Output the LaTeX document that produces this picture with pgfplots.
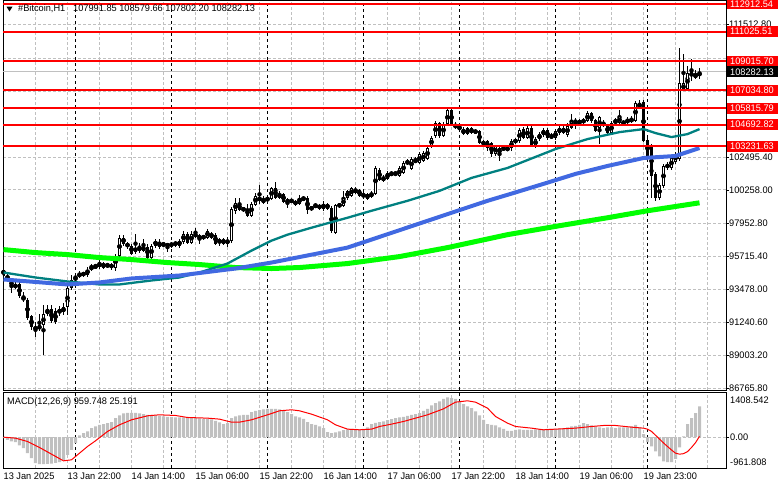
\documentclass[border=0pt]{standalone}
\usepackage{pgfplots}
\pgfplotsset{compat=1.18}
\usepackage{pgfplotstable}
\usepackage{fontspec}
\setmainfont{Liberation Sans}
\newfontfamily\mt{Liberation Sans}[FakeStretch=0.97]
\newcommand\mtf{\mt\fontsize{9.5}{11}\selectfont}
\definecolor{mtgrid}{HTML}{C0C0C0}
\definecolor{mtlime}{HTML}{00FF00}
\definecolor{mtteal}{HTML}{008080}
\definecolor{mtblue}{HTML}{4169E1}
\definecolor{mtred}{HTML}{FF0000}

\pgfplotstableread[row sep=\\]{
i o h l c\\
0 94833 95036 94290 94426\\ 1 94426 94562 94019 94155\\ 2 94155 94223 93206 93612\\ 3 93612 93951 93477 93816\\
4 93816 93951 92867 93002\\ 5 93002 93273 92595 92731\\ 6 92731 92867 91375 91511\\ 7 91646 91714 90697 90900\\
8 90900 91239 90222 90765\\ 9 90765 91782 90629 91036\\ 10 91036 92392 89002 91782\\ 11 91782 92392 91646 92121\\
12 92121 92392 91172 91307\\ 13 91985 92189 91104 91239\\ 14 91850 92324 91646 92121\\ 15 91917 92528 91714 92256\\
16 92256 93680 91714 93545\\ 17 93545 94494 93409 94087\\ 18 94087 94629 93951 94358\\ 19 94358 94765 94223 94562\\
20 94562 94697 94358 94494\\ 21 94494 95036 94358 94833\\ 22 94833 95240 94765 95036\\ 23 95036 95240 94901 95010\\
24 95010 95511 94901 95307\\ 25 95240 95375 94901 94968\\ 26 95036 95307 94968 95172\\ 27 95172 95307 94833 94968\\
28 94968 95918 94765 95782\\ 29 95782 97206 95646 97002\\ 30 97002 97206 96460 96596\\ 31 96596 96731 96257 96392\\
32 96460 96596 95850 95918\\ 33 96053 97274 95918 96325\\ 34 96121 96663 95985 96392\\ 35 96121 96935 96053 96392\\
36 96392 96596 95579 95646\\ 37 95646 96596 95579 96460\\ 38 96460 96935 96325 96799\\ 39 96663 96935 96257 96392\\
40 96460 96731 96392 96596\\ 41 96596 96663 96053 96392\\ 42 96460 96731 96325 96596\\ 43 96528 96799 96392 96663\\
44 96460 96935 96325 96799\\ 45 96731 97477 96596 97274\\ 46 97274 97409 96596 96663\\ 47 96663 97477 96596 97274\\
48 97274 97680 97002 97070\\ 49 97138 97274 96596 96935\\ 50 97002 97206 96867 97070\\ 51 97002 97613 96935 97477\\
52 97002 97409 96935 97274\\ 53 97206 97342 96528 96596\\ 54 96663 97002 96460 96867\\ 55 96867 97002 96528 96596\\
56 96596 97070 96392 96867\\ 57 96799 99104 96663 98969\\ 58 98833 99714 98630 99375\\ 59 99307 99714 98833 98901\\
60 98901 99104 98765 98969\\ 61 98969 99307 98426 98494\\ 62 98494 99443 98426 99307\\ 63 99240 100053 99172 99850\\
64 99782 100596 99307 99511\\ 65 99375 99850 99307 99646\\ 66 99646 99782 99511 99579\\ 67 99646 100460 99579 100392\\
68 100392 100799 99646 99714\\ 69 99714 100189 99646 99986\\ 70 99986 100053 99375 99443\\ 71 99646 99714 99036 99307\\
72 99443 99646 99375 99579\\ 73 99240 99579 99172 99511\\ 74 99307 99918 99240 99714\\ 75 99714 99850 99511 99579\\
76 99714 99850 98630 98901\\ 77 98901 99172 98833 99104\\ 78 99172 99375 99036 99150\\ 79 99240 99307 98901 98969\\
80 98969 99511 98833 99307\\ 81 98969 99375 98901 99307\\ 82 99036 99172 97341 97477\\ 83 97341 99307 97274 99240\\
84 99104 99375 99036 99307\\ 85 99172 100189 99104 99714\\ 86 99714 100257 99579 100189\\ 87 99850 100460 99782 100392\\
88 100325 100460 99986 100053\\ 89 100257 100325 99782 99850\\ 90 99850 100121 99646 99918\\ 91 99986 100053 99579 99646\\
92 99782 100189 99714 100053\\ 93 99986 101884 99918 101748\\ 94 101613 101748 100867 100935\\ 95 101138 101274 100799 100867\\
96 101003 101545 100935 101409\\ 97 101409 101545 101206 101274\\ 98 101409 101477 101206 101342\\ 99 101206 101884 101138 101748\\
100 101409 102223 101342 102087\\ 101 102223 102359 101952 102020\\ 102 101681 102494 101613 102359\\ 103 102155 102494 102087 102291\\
104 102087 102833 102020 102698\\ 105 102223 102901 102155 102765\\ 106 102359 103240 102291 103104\\ 107 103240 103918 103104 103782\\
108 103918 104935 103782 104799\\ 109 104799 104867 103782 103918\\ 110 103918 104867 103850 104732\\ 111 104732 105749 104596 105681\\
112 105681 105749 104596 104732\\ 113 104732 104867 104393 104460\\ 114 104596 104664 104257 104393\\ 115 104393 104528 103986 104054\\
116 104054 104528 103986 104460\\ 117 104460 104528 104054 104121\\ 118 104189 104393 104054 104257\\ 119 104257 104325 103376 103443\\
120 103511 103647 103240 103376\\ 121 103579 103647 102901 103104\\ 122 103443 103511 102494 102698\\ 123 102698 103308 102562 103240\\
124 103104 103172 102223 102698\\ 125 103036 103240 102901 103104\\ 126 103104 103240 102901 102969\\ 127 103104 103714 102901 103579\\
128 103511 103782 103376 103647\\ 129 103579 104460 103443 104325\\ 130 104393 104528 103714 103782\\ 131 103782 104596 103714 104460\\
132 104460 104664 103172 103240\\ 133 103240 103850 103104 103714\\ 134 103714 104189 103579 104054\\ 135 103986 104460 103850 104325\\
136 104325 104460 103647 103782\\ 137 103850 104121 103714 103918\\ 138 103782 104393 103647 104257\\ 139 104121 104664 103986 104460\\
140 104460 104596 104054 104121\\ 141 103986 104799 103850 104596\\ 142 104460 105410 104393 104935\\ 143 104867 105138 104393 104935\\
144 104799 105070 104664 104935\\ 145 104867 105138 104732 105003\\ 146 104935 105613 104867 105477\\ 147 105477 105545 104799 104935\\
148 105003 105070 104189 104257\\ 149 104460 105274 103376 105206\\ 150 104867 105003 104528 104596\\ 151 104596 104732 104054 104121\\
152 104121 104935 104054 104799\\ 153 104799 105138 104732 105003\\ 154 104799 105681 104732 105274\\ 155 104867 105003 104664 104799\\
156 104799 105206 104732 105070\\ 157 105138 105274 104799 104867\\ 158 104935 106291 104867 106155\\ 159 105816 106359 105749 106155\\
160 106223 106359 103511 103579\\ 161 103647 103782 102359 102562\\ 162 103240 103376 99714 101206\\ 163 101342 101477 99511 99714\\
164 99714 100731 99579 100596\\ 165 100528 102020 100392 101884\\ 166 101748 102155 101613 102020\\ 167 101748 102562 101613 102426\\
168 102155 102833 102020 102698\\ 169 102359 109884 102223 107511\\ 170 107037 109478 106969 107511\\ 171 107105 108664 106969 108189\\
172 108257 109139 107647 107986\\ 173 108121 108393 107782 107918\\ 174 107991.85 108579.66 107802.20 108282.13\\
}\candles

\begin{document}
\begin{tikzpicture}[x=1pt,y=1pt]
\useasboundingbox (0,0) rectangle (781,489);
% ---------------- main price pane ----------------
\begin{axis}[
  at={(3pt,99pt)}, anchor=south west,
  scale only axis, width=723pt, height=390pt,
  xmin=-0.125, xmax=180.625,
  ymin=86629.6, ymax=113184.7,
  clip mode=individual,
  axis line style={black, line width=0.8pt},
  xtick={8,16,...,176}, xticklabels={}, xtick style={draw=none},
  xmajorgrids, ymajorgrids,
  grid style={mtgrid, dash pattern=on 3pt off 2pt, line width=0.8pt},
  ytick={86765.80,89003.20,91240.60,93478.00,95715.40,97952.80,100258.00,102495.40,104732.80,106970.20,109207.60,111512.80},
  yticklabels={86765.80,89003.20,91240.60,93478.00,95715.40,97952.80,100258.00,102495.40,,,,111512.80},
  ytick pos=right, yticklabel pos=right,
  tick align=outside, major tick length=3pt,
  ytick style={black, line width=0.6pt},
  yticklabel style={font=\mtf, anchor=west, inner sep=0pt, xshift=0pt},
  scaled y ticks=false,
]
\pgfplotsinvokeforeach{18,42,66,90,114,138,161}{
  \draw[black, dash pattern=on 3pt off 3pt, line width=0.8pt] (axis cs:#1,86629.6) -- (axis cs:#1,113184.7);
}
% current price line
\addplot[mtgrid, line width=1pt, forget plot] coordinates {(-0.125,108282.13) (180.625,108282.13)};
% wicks
\addplot[only marks, mark=none, forget plot,
  error bars/.cd, y dir=both, y explicit, error mark=none,
  error bar style={black, line width=1pt}]
  table[x=i, y expr={(\thisrow{h}+\thisrow{l})/2}, y error expr={(\thisrow{h}-\thisrow{l})/2}] {\candles};
% bodies
\addplot[only marks, mark=none, forget plot,
  error bars/.cd, y dir=both, y explicit, error mark=none,
  error bar style={black, line width=3pt}]
  table[x=i, y expr={(\thisrow{o}+\thisrow{c})/2}, y error expr={max(abs(\thisrow{c}-\thisrow{o})/2,35)}] {\candles};
\addplot[only marks, mark=none, forget plot,
  error bars/.cd, y dir=both, y explicit, error mark=none,
  error bar style={white, line width=1pt}]
  table[x=i, y expr={(\thisrow{o}+\thisrow{c})/2}, y error expr={max((\thisrow{c}-\thisrow{o})/2-68,0)}] {\candles};
% moving averages
\addplot[mtlime, line width=5pt, line join=round] coordinates {(0,96189) (8,95985) (16,95850) (24,95646) (32,95511) (41,95307) (49,95172) (58,94968) (67,94901) (74,94968) (86,95240) (99,95714) (111,96325) (126,97206) (139,97816) (151,98358) (161,98833) (174,99375)};
\addplot[mtteal, line width=2.3pt, line join=round] coordinates {(0,94629) (8,94290) (16,94019) (24,93816) (29,93816) (37,94087) (44,94290) (49,94629) (56,95240) (62,96121) (67,96799) (71,97206) (77,97680) (86,98358) (92,98833) (101,99511) (109,100189) (117,101070) (126,101748) (138,103036) (146,103714) (154,104189) (160,104393) (163,104121) (167,103850) (171,104054) (174,104393)};
\addplot[mtblue, line width=4pt, line join=round] coordinates {(0,94155) (16,93816) (24,93951) (32,94223) (44,94426) (58,94901) (67,95307) (86,96325) (115,98969) (121,99511) (126,99918) (135,100664) (143,101342) (151,101884) (160,102426) (168,102562) (174,103104)};
% levels
\pgfplotsinvokeforeach{112912.54,111025.51,109015.70,107034.80,105815.79,104692.82,103231.63}{
  \addplot[mtred, line width=2pt, forget plot] coordinates {(-0.125,#1) (180.625,#1)};
  \node[fill=mtred, text=white, anchor=west, inner xsep=3pt, inner ysep=0pt, minimum height=11pt, text width=45pt, align=left, font=\mtf, xshift=1pt] at (axis cs:180.625,#1) {#1};
}
\node[fill=black, text=white, anchor=west, inner xsep=3pt, inner ysep=0pt, minimum height=11pt, text width=45pt, align=left, font=\mtf, xshift=1pt] at (axis cs:180.625,108282.13) {108282.13};
\end{axis}
% ---------------- MACD pane ----------------
\begin{axis}[
  at={(3pt,21pt)}, anchor=south west,
  scale only axis, width=723pt, height=76pt,
  xmin=-0.125, xmax=180.625,
  ymin=-961.808, ymax=1408.542,
  clip mode=individual,
  axis line style={black, line width=0.8pt},
  xtick={8,16,...,176}, xticklabels={}, xtick style={draw=none},
  extra x ticks={0,16,...,160},
  extra x tick labels={13 Jan 2025,13 Jan 22:00,14 Jan 14:00,15 Jan 06:00,15 Jan 22:00,16 Jan 14:00,17 Jan 06:00,17 Jan 22:00,18 Jan 14:00,19 Jan 06:00,19 Jan 23:00},
  extra x tick style={grid=none, tick style={draw=none}, xticklabel style={font=\mtf, anchor=north west, inner sep=0pt, yshift=-2pt}},
  xmajorgrids, ymajorgrids,
  grid style={mtgrid, dash pattern=on 3pt off 2pt, line width=0.8pt},
  ytick={0}, yticklabels={}, ytick pos=right,
  tick align=outside, major tick length=3pt,
  ytick style={black, line width=0.6pt},
]
\pgfplotsinvokeforeach{18,42,66,90,114,138,161}{
  \draw[black, dash pattern=on 3pt off 3pt, line width=0.8pt] (axis cs:#1,-961.808) -- (axis cs:#1,1408.542);
}
\addplot[ybar, bar width=3pt, bar shift=0pt, fill=mtgrid, draw=none] coordinates {
(0,-31) (1,-83) (2,-135) (3,-156) (4,-260) (5,-343) (6,-499) (7,-655) (8,-811) (9,-842) (10,-842) (11,-832) (12,-822) (13,-801) (14,-780) (15,-707) (16,-551) (17,-395) (18,-187) (19,52)
(20,125) (21,177) (22,281) (23,333) (24,385) (25,406) (26,437) (27,468) (28,593) (29,676) (30,738) (31,759) (32,759) (33,759) (34,738) (35,718) (36,697) (37,697) (38,676) (39,666)
(40,645) (41,634) (42,624) (43,614) (44,614) (45,614) (46,603) (47,593) (48,593) (49,582) (50,572) (51,562) (52,551) (53,510) (54,458) (55,406) (56,437) (57,593) (58,645) (59,676)
(60,697) (61,697) (62,780) (63,822) (64,842) (65,863) (66,884) (67,884) (68,884) (69,863) (70,822) (71,780) (72,718) (73,645) (74,614) (75,572) (76,468) (77,406) (78,385) (79,333)
(80,281) (81,156) (82,125) (83,146) (84,177) (85,218) (86,239) (87,260) (88,260) (89,250) (90,260) (91,302) (92,406) (93,447) (94,468) (95,489) (96,530) (97,560) (98,590) (99,614)
(100,634) (101,666) (102,697) (103,718) (104,749) (105,822) (106,884) (107,988) (108,1061) (109,1113) (110,1196) (111,1238) (112,1217) (113,1196) (114,1134) (115,1030) (116,957) (117,905) (118,801) (119,676)
(120,541) (121,406) (122,385) (123,364) (124,302) (125,260) (126,198) (127,198) (128,229) (129,239) (130,229) (131,229) (132,229) (133,239) (134,250) (135,250) (136,260) (137,260) (138,260) (139,270)
(140,281) (141,302) (142,333) (143,354) (144,385) (145,437) (146,406) (147,364) (148,333) (149,302) (150,281) (151,302) (152,302) (153,281) (154,302) (155,302) (156,302) (157,333) (158,385) (159,302)
(160,94) (161,-156) (162,-291) (163,-447) (164,-603) (165,-759) (166,-780) (167,-780) (168,-676) (169,-322) (170,21) (171,406) (172,593) (173,749) (174,959.748)};
\addplot[mtred, line width=1pt, line join=round] coordinates {
(0,0) (3,-31) (6,-135) (9,-322) (12,-530) (15,-738) (17,-707) (19,-499) (21,-291) (23,-114) (26,177) (29,385) (32,541) (36,666) (39,697) (43,676) (46,614) (51,593) (54,562) (57,468) (59,468) (62,541) (66,697) (69,822) (72,853) (74,822) (77,718) (81,541) (83,385) (86,250) (89,229) (92,250) (94,333) (97,406) (100,489) (103,593) (106,697) (110,884) (113,1092) (116,1134) (118,1092) (121,905) (123,645) (126,437) (128,333) (132,281) (135,229) (138,250) (143,281) (147,333) (150,364) (153,364) (157,312) (160,281) (161,250) (162,180) (163,60) (164,-60) (165,-180) (166,-291) (167,-400) (168,-499) (169,-530) (170,-515) (171,-450) (172,-322) (173,-172) (174,25.191)};
\node[anchor=west, font=\mtf, inner sep=0pt, xshift=4pt, yshift=-8pt] at (axis cs:180.625,1408.542) {1408.542};
\node[anchor=west, font=\mtf, inner sep=0pt, xshift=4pt] at (axis cs:180.625,0) {0.00};
\node[anchor=west, font=\mtf, inner sep=0pt, xshift=4pt, yshift=6pt] at (axis cs:180.625,-961.808) {-961.808};
\node[anchor=west, font=\mtf, inner sep=0pt] at (rel axis cs:0,1) [xshift=4pt, yshift=-9.7pt] {MACD(12,26,9) 959.748 25.191};
\end{axis}
% title
\fill[black] (6.5,482.3) -- (12.5,482.3) -- (9.5,477.5) -- cycle;
\node[anchor=west, font=\mtf, inner sep=0pt] at (18,480.7) {\#Bitcoin,H1};
\node[anchor=west, font=\mtf, inner sep=0pt] at (73,480.7) {107991.85 108579.66 107802.20 108282.13};
\end{tikzpicture}
\end{document}
